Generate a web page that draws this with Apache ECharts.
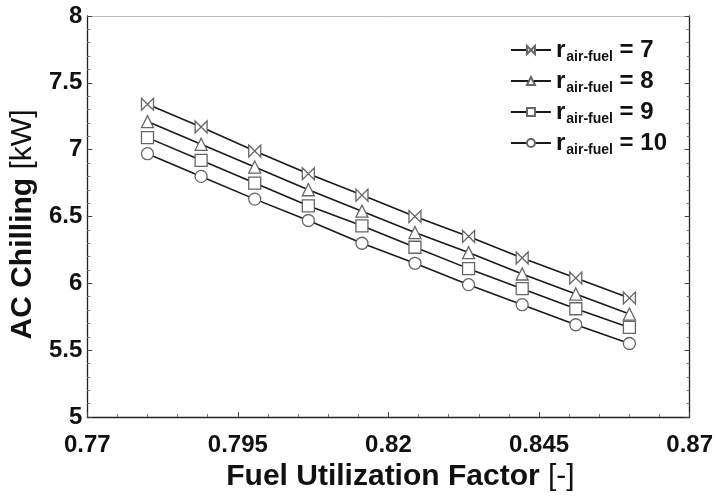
<!DOCTYPE html>
<html><head><meta charset="utf-8">
<script src="https://cdn.jsdelivr.net/npm/echarts@6/dist/echarts.min.js"></script>
<style>html,body{margin:0;padding:0;background:#fff}#c{width:716px;height:497px}</style>
</head><body><div id="c"></div>
<script>
const xValues = [0.78, 0.7889, 0.7978, 0.8067, 0.8156, 0.8244, 0.8333, 0.8422, 0.8511, 0.86];
const ratios = ['7', '8', '9', '10'];
const chill7  = [7.34, 7.17, 6.99, 6.82, 6.66, 6.50, 6.35, 6.19, 6.04, 5.89];
const chill8  = [7.21, 7.04, 6.87, 6.70, 6.54, 6.38, 6.23, 6.07, 5.92, 5.77];
const chill9  = [7.09, 6.92, 6.75, 6.58, 6.43, 6.27, 6.11, 5.96, 5.81, 5.67];
const chill10 = [6.97, 6.80, 6.63, 6.47, 6.30, 6.15, 5.99, 5.84, 5.69, 5.55];
const xTicks = ['0.77', '0.795', '0.82', '0.845', '0.87'];
const yTicks = ['5', '5.5', '6', '6.5', '7', '7.5', '8'];

const seriesValues = [chill7, chill8, chill9, chill10];
const symbols = ['path://M0,0L10,10L10,0L0,10Z', 'triangle', 'rect', 'circle'];
const font = '"Liberation Sans", Arial, sans-serif';

const chart = echarts.init(document.getElementById('c'), null, {renderer: 'canvas'});
const axisLine = {show: true, lineStyle: {color: '#222', width: 1.3}};
const xAxisBase = {
  type: 'value', min: 0.77, max: 0.87, interval: 0.025,
  axisLine: axisLine,
  axisTick: {show: true, inside: true, length: 5, lineStyle: {color: '#444'}},
  minorTick: {show: true, splitNumber: 5, length: 3, lineStyle: {color: '#777'}},
  splitLine: {show: false}
};
const yAxisBase = {
  type: 'value', min: 5, max: 8, interval: 0.5,
  axisLine: axisLine,
  axisTick: {show: true, inside: true, length: 5, lineStyle: {color: '#444'}},
  minorTick: {show: true, splitNumber: 5, length: 3, lineStyle: {color: '#777'}},
  splitLine: {show: false}
};
const nameRich = {
  b: {fontFamily: font, fontWeight: 'bold', fontSize: 30, color: '#111'},
  n: {fontFamily: font, fontWeight: 'normal', fontSize: 30, color: '#111'}
};

chart.setOption({
  animation: false,
  backgroundColor: '#fff',
  grid: {left: 87, right: 26, top: 16, bottom: 80},
  legend: {
    right: 44, top: 33, orient: 'vertical', itemGap: 5,
    itemWidth: 40, itemHeight: 10,
    data: ratios.map(r => 'r = ' + r),
    formatter: function (name) {
      const r = name.split('= ')[1];
      return '{r|r}{s|air-fuel}{e| = ' + r + '}';
    },
    textStyle: {
      rich: {
        r: {fontFamily: font, fontWeight: 'bold', fontSize: 24, color: '#111', lineHeight: 24, verticalAlign: 'top'},
        s: {fontFamily: font, fontWeight: 'bold', fontSize: 14, color: '#111', lineHeight: 14, padding: [12, 0, 0, 1], verticalAlign: 'top'},
        e: {fontFamily: font, fontWeight: 'bold', fontSize: 24, color: '#111', lineHeight: 24, verticalAlign: 'top'}
      }
    }
  },
  xAxis: [
    Object.assign({}, xAxisBase, {
      position: 'bottom',
      name: '{b|Fuel Utilization Factor }{n|[-]}', nameLocation: 'middle', nameGap: 40,
      nameTextStyle: {rich: nameRich, padding: [0, 0, 0, 24]},
      axisLabel: {
        fontFamily: font, fontWeight: 'bold', fontSize: 24, color: '#111', margin: 16,
        formatter: function (v) { return xTicks[Math.round((v - 0.77) / 0.025)]; }
      }
    }),
    Object.assign({}, xAxisBase, {
      position: 'top', axisLabel: {show: false},
      axisLine: {show: true, lineStyle: {color: '#bbb', width: 1}},
      axisTick: {show: false}, minorTick: {show: false}
    })
  ],
  yAxis: [
    Object.assign({}, yAxisBase, {
      position: 'left',
      name: '{b|AC Chilling }{n|[kW]}', nameLocation: 'middle', nameGap: 46,
      nameTextStyle: {rich: nameRich, padding: [0, 16, 0, 0]},
      axisLabel: {
        fontFamily: font, fontWeight: 'bold', fontSize: 24, color: '#111', margin: 5,
        formatter: function (v) { return yTicks[Math.round((v - 5) / 0.5)]; }
      }
    }),
    Object.assign({}, yAxisBase, {position: 'right', axisLabel: {show: false}})
  ],
  series: ratios.map((r, i) => ({
    name: 'r = ' + r,
    type: 'line',
    xAxisIndex: 0, yAxisIndex: 0,
    data: xValues.map((x, j) => [x, seriesValues[i][j]]),
    symbol: symbols[i],
    symbolSize: 12,
    showAllSymbol: true,
    lineStyle: {color: '#1a1a1a', width: 1.6},
    itemStyle: {color: '#fff', borderColor: '#666', borderWidth: 1.3},
    z: 2
  }))
});
</script></body></html>
